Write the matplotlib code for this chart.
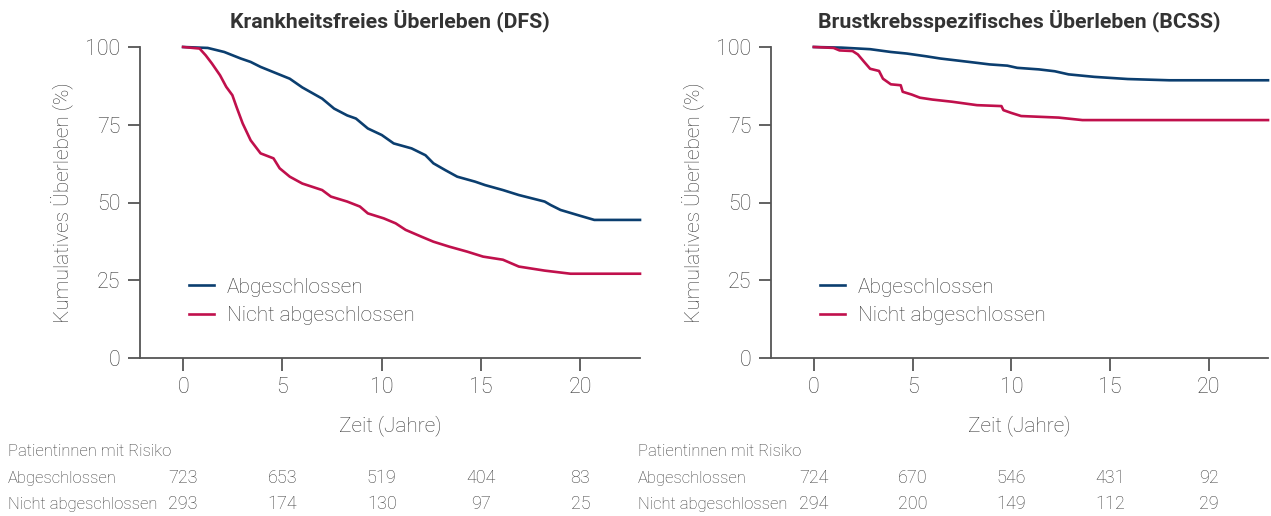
import matplotlib.pyplot as plt
from matplotlib import transforms

plt.rcParams['font.family'] = ['Roboto', 'DejaVu Sans']

blue = '#0b3e6f'
red = '#c0104c'
grey = '#3a3a3a'
spine_grey = '#555555'

# Krankheitsfreies Ueberleben (DFS)
dfs_t_ab = [0, 1.24, 2.07, 2.9, 3.4, 3.9, 4.75, 5.37, 6.0, 7.0, 7.6, 8.26, 8.7, 9.3, 10.0,
            10.6, 11.5, 12.2, 12.6, 13.2, 13.8, 14.7, 15.2, 16.1, 16.9, 18.2, 18.5, 19.0,
            20.0, 20.7, 23.0]
dfs_s_ab = [100, 99.7, 98.4, 96.3, 95.2, 93.6, 91.4, 89.8, 87.0, 83.4, 80.2, 78.0, 77.0, 73.8,
            71.7, 69.0, 67.4, 65.2, 62.6, 60.4, 58.3, 56.7, 55.6, 54.0, 52.4, 50.3, 49.2, 47.6,
            45.7, 44.4, 44.4]
dfs_t_nab = [0, 0.83, 1.14, 1.45, 1.86, 2.17, 2.48, 2.69, 3.0, 3.4, 3.9, 4.55, 4.86, 5.37, 6.0,
             7.0, 7.44, 8.26, 8.9, 9.3, 10.1, 10.7, 11.2, 12.0, 12.6, 13.4, 14.3, 15.1, 16.1,
             16.9, 18.2, 19.5, 23.0]
dfs_s_nab = [100, 99.5, 97.3, 94.7, 90.9, 87.2, 84.5, 80.7, 75.4, 70.0, 65.8, 64.2, 61.0, 58.3,
             56.1, 54.0, 51.9, 50.3, 48.7, 46.5, 44.9, 43.3, 41.2, 39.0, 37.4, 35.8, 34.2, 32.6,
             31.6, 29.4, 28.1, 27.1, 27.1]

# Brustkrebsspezifisches Ueberleben (BCSS)
bcss_t_ab = [0, 1.4, 2.85, 3.9, 4.7, 5.7, 6.4, 7.2, 8.26, 8.9, 9.8, 10.3, 11.4, 12.2, 12.9,
             14.2, 15.9, 18.0, 23.0]
bcss_s_ab = [100, 99.8, 99.3, 98.4, 97.9, 97.0, 96.3, 95.7, 94.9, 94.4, 94.0, 93.3, 92.8, 92.2,
             91.2, 90.4, 89.7, 89.3, 89.3]
bcss_t_nab = [0, 1.0, 1.3, 1.96, 2.23, 2.55, 2.85, 3.3, 3.5, 3.9, 4.4, 4.5, 4.96, 5.37, 6.0,
              7.0, 8.26, 9.5, 9.6, 10.0, 10.5, 12.4, 13.6, 23.0]
bcss_s_nab = [100, 99.7, 98.9, 98.7, 97.6, 95.2, 93.0, 92.3, 89.8, 88.0, 87.7, 85.6, 84.7, 83.7,
              83.1, 82.4, 81.3, 81.0, 79.7, 78.8, 77.8, 77.3, 76.5, 76.5]

ticks = [0, 5, 10, 15, 20]
risk_dfs_ab = [723, 653, 519, 404, 83]
risk_dfs_nab = [293, 174, 130, 97, 25]
risk_bcss_ab = [724, 670, 546, 431, 92]
risk_bcss_nab = [294, 200, 149, 112, 29]

W, H = 1271, 516
fig = plt.figure(figsize=(W / 100, H / 100), dpi=100)


def panel(left_px, width_px, title, t1, s1, t2, s2, r1, r2, table_x):
    ax = fig.add_axes([left_px / W, 1 - 358 / H, width_px / W, 311 / H])
    ax.plot(t1, s1, color=blue, lw=1.9, label='Abgeschlossen', clip_on=False)
    ax.plot(t2, s2, color=red, lw=1.9, label='Nicht abgeschlossen', clip_on=False)
    ax.set_xlim(-2.17, 23.0)
    ax.set_ylim(0, 100)
    ax.set_xticks(ticks)
    ax.set_yticks([0, 25, 50, 75, 100])
    for s in ['top', 'right']:
        ax.spines[s].set_visible(False)
    for s in ['left', 'bottom']:
        ax.spines[s].set_color(spine_grey)
        ax.spines[s].set_linewidth(1.3)
    ax.tick_params(colors=spine_grey, labelcolor=grey, width=1.3, length=9, labelsize=15.5, pad=5)
    for lab in ax.get_xticklabels() + ax.get_yticklabels():
        lab.set_fontweight('light')
    ax.set_xlabel('Zeit (Jahre)', fontsize=15, color=grey, fontweight='light', labelpad=12)
    ax.set_ylabel('Kumulatives Überleben (%)', fontsize=15, color=grey, fontweight='light', labelpad=8)
    ax.set_title(title, fontsize=15.3, fontweight='bold', color='#333333', pad=14)
    leg = ax.legend(loc='upper left', bbox_to_anchor=(0.078, 0.292), frameon=False, fontsize=15,
                    handlelength=1.2, handletextpad=0.6, borderpad=0, labelspacing=0.45)
    for txt in leg.get_texts():
        txt.set_color(grey)
        txt.set_fontweight('light')

    tr = transforms.blended_transform_factory(ax.transData, fig.transFigure)
    fig.text(table_x / W, 1 - 452 / H, 'Patientinnen mit Risiko', fontsize=12, color=grey,
             fontweight='light', va='center')
    fig.text(table_x / W, 1 - 478 / H, 'Abgeschlossen', fontsize=12, color=grey,
             fontweight='light', va='center')
    fig.text(table_x / W, 1 - 504 / H, 'Nicht abgeschlossen', fontsize=12, color=grey,
             fontweight='light', va='center')
    for x, a, b in zip(ticks, r1, r2):
        fig.text(x, 1 - 478 / H, str(a), transform=tr, fontsize=13, color=grey,
                 fontweight='light', ha='center', va='center')
        fig.text(x, 1 - 504 / H, str(b), transform=tr, fontsize=13, color=grey,
                 fontweight='light', ha='center', va='center')
    return ax


panel(140, 500, 'Krankheitsfreies Überleben (DFS)', dfs_t_ab, dfs_s_ab, dfs_t_nab, dfs_s_nab,
      risk_dfs_ab, risk_dfs_nab, 8)
panel(771, 497, 'Brustkrebsspezifisches Überleben (BCSS)', bcss_t_ab, bcss_s_ab, bcss_t_nab, bcss_s_nab,
      risk_bcss_ab, risk_bcss_nab, 638)

fig.savefig('out.png', dpi=100)
